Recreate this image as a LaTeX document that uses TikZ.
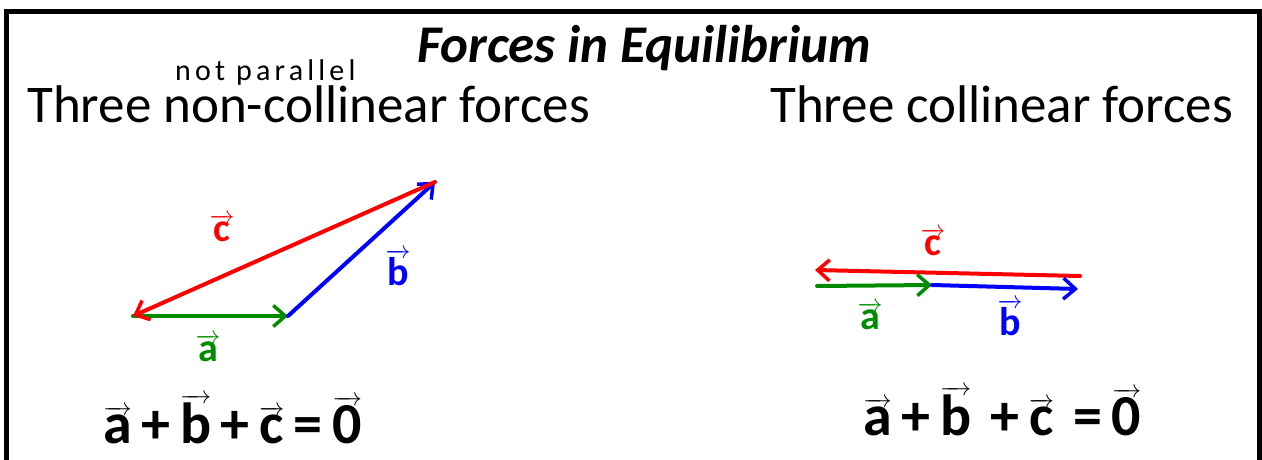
\documentclass[tikz,border=0pt]{standalone}
\usepackage{fontspec}
\setmainfont{Carlito}
\usetikzlibrary{arrows.meta}
\definecolor{penred}{RGB}{255,0,0}
\definecolor{pengreen}{RGB}{0,140,0}
\definecolor{penblue}{RGB}{0,0,255}
\newcommand\hvec[1]{\ensuremath{\overrightarrow{\mbox{#1}}}}
\tikzset{
  vecline/.style={line width=4pt, line cap=round, line join=round,
    -{Straight Barb[length=12pt,width=21pt,line width=3.5pt]}},
  heading/.style={font=\fontsize{53}{60}\selectfont, inner sep=0pt},
  veclabel/.style={font=\bfseries\fontsize{40}{44}\selectfont, inner sep=0pt},
  equation/.style={font=\bfseries\fontsize{58}{64}\selectfont, inner sep=0pt},
}
\begin{document}
\begin{tikzpicture}[x=1pt,y=-1pt]
\useasboundingbox (0,0) rectangle (1262,459);
% frame
\draw[line width=5pt] (6.5,470) -- (6.5,11.5) -- (1259.5,11.5) -- (1259.5,470);
% texts
\node[heading, anchor=base, font=\bfseries\itshape\fontsize{53}{60}\selectfont] (title) at (644,62) {Forces in Equilibrium};
\node[heading, anchor=base west] (left) at (27,122) {Three non-collinear forces};
\node[heading, anchor=base west] (right) at (770,122) {Three collinear forces};
\node[anchor=base west, inner sep=0pt, font=\fontsize{30}{32}\selectfont\addfontfeature{LetterSpace=14}] (note) at (175,80) {not parallel};
% left triangle
\coordinate (A) at (133,316);
\coordinate (B) at (288,316);
\coordinate (C) at (435,182);
\draw[vecline, pengreen] (A) -- (B);
\draw[vecline, penblue] (B) -- (C);
\draw[vecline, penred] (C) -- (A);
\node[veclabel, text=penred] (lc) at (222,228) {\hvec{c}};
\node[veclabel, text=penblue] (lb) at (398,268) {\hvec{b}};
\node[veclabel, text=pengreen] (la) at (208,348) {\hvec{a}};
\node[equation, anchor=base west] (eqL) at (103,443) {\hvec{a}\,+\,\hvec{b}\,+\,\hvec{c}\,=\,\hvec{0}};
% right collinear
\coordinate (Rc1) at (1080,276);
\coordinate (Rc2) at (815,270);
\coordinate (Ra1) at (817,286);
\coordinate (Ra2) at (932,285);
\coordinate (Rb2) at (1078,289);
\draw[vecline, penred] (Rc1) -- (Rc2);
\draw[vecline, pengreen] (Ra1) -- (Ra2);
\draw[vecline, penblue] (Ra2) -- (Rb2);
\node[veclabel, text=penred] (rc) at (933,242) {\hvec{c}};
\node[veclabel, text=pengreen] (ra) at (870,316) {\hvec{a}};
\node[veclabel, text=penblue] (rb) at (1010,318) {\hvec{b}};
\node[equation, anchor=base west] (eqR) at (863,435) {\hvec{a}\,+\,\hvec{b}\,\,+\,\hvec{c}\,\,=\,\hvec{0}};
\end{tikzpicture}
\end{document}
